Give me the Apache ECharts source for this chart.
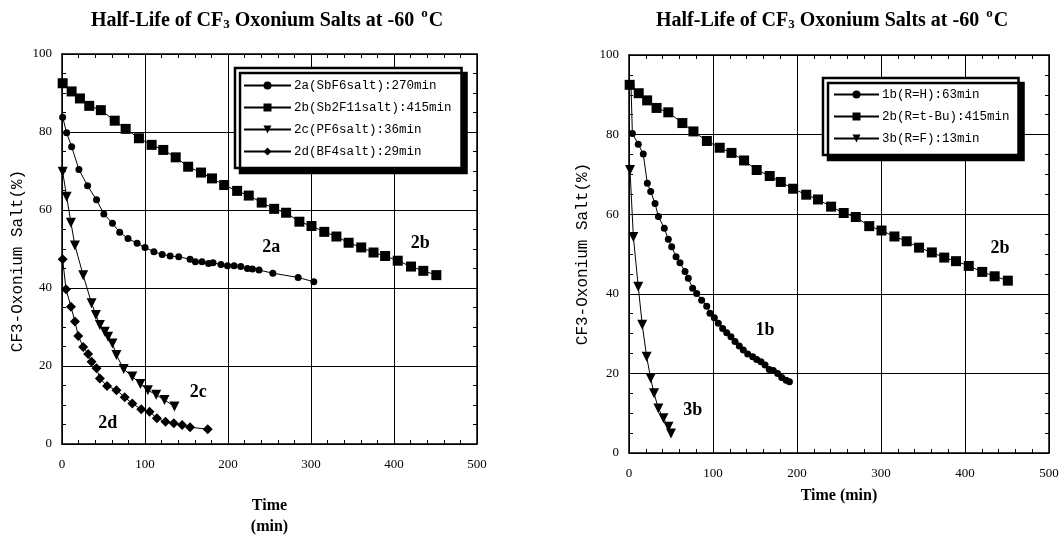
<!DOCTYPE html>
<html>
<head>
<meta charset="utf-8">
<script src="https://cdn.jsdelivr.net/npm/echarts@6/dist/echarts.min.js"></script>
<style>html,body{margin:0;padding:0;background:#fff;}#c{width:1061px;height:535px;}</style>
</head>
<body>
<div id="c"></div>
<script>
// ---- Data (time in min, remaining salt in %) ----
var s2a = [[0.8,83.8],[5.6,79.8],[11.6,76.2],[20.4,70.4],[30.8,66.2],[41.6,62.6],[50.4,59],[60.8,56.6],[69.5,54.3],[79.5,52.7],[90.5,51.5],[100,50.4],[110.7,49.3],[120.7,48.6],[130.3,48.2],[140.6,48],[154.3,47.4],[160.7,46.7],[168.7,46.7],[176.6,46.3],[182,46.5],[191.5,46],[199.4,45.7],[207.4,45.7],[215.4,45.5],[223.4,45],[229.4,44.9],[237.4,44.6],[254,43.8],[284.5,42.7],[303.4,41.6]];
var s2b = [[0.8,92.5],[11.6,90.4],[21.6,88.6],[32.8,86.7],[46.8,85.6],[63.5,82.9],[76.7,80.8],[92.7,78.4],[108,76.7],[122,75.4],[137,73.5],[152,71.1],[167.5,69.6],[180.7,68.1],[195.4,66.4],[211,64.9],[225,63.7],[240.6,61.9],[255.6,60.3],[270,59.3],[286,57],[300.6,55.9],[316,54.4],[330.6,53.2],[345.3,51.6],[360.5,50.4],[375.3,49.1],[389.3,48.2],[404.5,47],[420.5,45.5],[435.3,44.4],[451,43.3]];
var s2c = [[0.8,69.8],[5.6,63.4],[10.8,56.7],[15.6,50.9],[25.5,43.3],[35.6,36.1],[40.8,33.1],[45.6,30.5],[51.6,28.8],[55.5,27.5],[60.8,25.8],[65.6,22.8],[74.3,19.2],[84.7,17.3],[94.4,15.4],[103.5,13.8],[113.5,12.6],[123.5,11.3],[135.5,9.6]];
var s2d = [[0.8,47.4],[4.8,39.7],[10.8,35.2],[15.6,31.4],[19.6,27.7],[25.5,24.9],[31.5,23.1],[35.6,21.1],[41.6,19.4],[45.6,16.8],[54.3,14.9],[65.6,13.8],[75.5,12],[84.7,10.4],[95.5,8.9],[105.5,8.3],[114.3,6.6],[124.7,5.7],[134.7,5.3],[144.7,4.9],[154.3,4.3],[175.5,3.8]];
var s1b = [[2.4,92.2],[4,80.3],[11,77.6],[17,75.1],[21.8,67.8],[25.8,65.7],[31,62.7],[35,59.4],[42,56.5],[46.8,53.7],[50.8,51.8],[56,49.3],[60.7,47.8],[66.7,45.6],[70.6,43.9],[75.8,41.4],[80.6,40.1],[86.5,38.4],[92.5,36.9],[96.4,35.1],[101.6,34],[106.3,32.6],[111.5,31.3],[116.3,30.2],[121.4,29.2],[126.2,28],[131.3,26.9],[136.1,25.9],[141.3,24.9],[147.3,24.2],[152,23.5],[157.1,22.9],[162,22.1],[167,21],[171.8,20.7],[177,20],[181.8,19],[187,18.3],[191,17.9]];
var s3b = [[1.2,71.1],[5.2,54.3],[11,41.8],[15.8,32.2],[21,24.2],[25.8,18.8],[29.8,15],[35,11.2],[41,8.7],[47,6.6],[50,4.9]];
var namesLeft = ['2a(SbF6salt):270min','2b(Sb2F11salt):415min','2c(PF6salt):36min','2d(BF4salt):29min'];
var namesRight = ['1b(R=H):63min','2b(R=t-Bu):415min','3b(R=F):13min'];
var notesLeft = [[252,50.3,'2a'],[431.7,51.5,'2b'],[164,13.3,'2c'],[55,5.4,'2d']];
var notesRight = [[162,30.9,'1b'],[76,10.8,'3b'],[441.7,51.5,'2b']];
var xRange = {min:0, max:500, major:100, minor:20};
var yRange = {min:0, max:100, major:20, minor:5};

// ---- Styling ----
var SERIF = '"Liberation Serif","Times New Roman",serif';
var MONO = '"Liberation Mono","DejaVu Sans Mono",monospace';
var titleRich = {
  b:{fontFamily:SERIF,fontWeight:'bold',fontSize:20,color:'#000',lineHeight:24,verticalAlign:'bottom'},
  sub:{fontFamily:SERIF,fontWeight:'bold',fontSize:13,color:'#000',lineHeight:13,verticalAlign:'bottom'},
  sup:{fontFamily:SERIF,fontWeight:'bold',fontSize:13,color:'#000',lineHeight:13,verticalAlign:'top',padding:[0,1,0,2]}
};
var titleText = '{b|Half-Life of CF}{sub|3}{b| Oxonium Salts at -60 }{sup|o}{b|C}';

// kind: 'main' (labels + grid lines), 'minor' (inner ticks only), 'mirror' (opposite side, ticks only)
function xAx(grid, kind, name, gap){
  var main = kind==='main';
  var a = {gridIndex:grid, type:'value', position: kind==='mirror'?'top':'bottom',
    min:xRange.min, max:xRange.max, interval: main?xRange.major:xRange.minor,
    axisLine:{show:kind!=='minor',onZero:false,lineStyle:{color:'#000',width:1.5}},
    axisTick:{show:!main,inside:true,length:4,lineStyle:{color:'#000',width:1}},
    splitLine:{show:main,lineStyle:{color:'#000',width:1}},
    axisLabel:{show:main,color:'#000',fontFamily:SERIF,fontSize:13,margin:14}};
  if(name){ a.name=name; a.nameLocation='middle'; a.nameGap=gap;
    a.nameTextStyle={fontFamily:SERIF,fontWeight:'bold',fontSize:16,color:'#000',lineHeight:21,verticalAlign:'top'}; }
  return a;
}
function yAx(grid, kind, withName, gap, namePad){
  var main = kind==='main';
  var a = {gridIndex:grid, type:'value', position: kind==='mirror'?'right':'left',
    min:yRange.min, max:yRange.max, interval: main?yRange.major:yRange.minor,
    axisLine:{show:kind!=='minor',onZero:false,lineStyle:{color:'#000',width:1.5}},
    axisTick:{show:!main,inside:true,length:4,lineStyle:{color:'#000',width:1}},
    splitLine:{show:main,lineStyle:{color:'#000',width:1}},
    axisLabel:{show:main,color:'#000',fontFamily:SERIF,fontSize:13,margin:10}};
  if(withName){ a.name='CF3-Oxonium Salt(%)'; a.nameLocation='middle'; a.nameGap=gap; a.nameRotate=90;
    a.nameTextStyle={fontFamily:MONO,fontSize:16,color:'#000',padding:namePad||0}; }
  return a;
}
function line(name, data, sym, size, xi, yi, rot){
  return {name:name, type:'line', data:data, xAxisIndex:xi, yAxisIndex:yi, symbol:sym, symbolSize:size,
    symbolRotate:rot||0, showAllSymbol:true, animation:false,
    lineStyle:{color:'#000',width:1}, itemStyle:{color:'#000',opacity:1}, z:3};
}
function notes(data, xi, yi){
  return {type:'scatter', data:data, xAxisIndex:xi, yAxisIndex:yi, symbolSize:1, animation:false, silent:true,
    itemStyle:{color:'rgba(0,0,0,0)',opacity:1},
    label:{show:true,position:'inside',formatter:function(p){return p.value[2];},
      fontFamily:SERIF,fontWeight:'bold',fontSize:18,color:'#000',opacity:1}, z:5};
}
function legend(names, left, top, pad, iw){
  return {data:names, orient:'vertical', left:left, top:top, padding:pad, itemGap:9, itemWidth:iw, itemHeight:10,
    backgroundColor:'#fff', borderColor:'#000', borderWidth:2.5,
    shadowColor:'#000', shadowBlur:0, shadowOffsetX:5, shadowOffsetY:5,
    textStyle:{fontFamily:MONO,fontSize:12.5,color:'#000',padding:[0,0,0,-2]}, inactiveColor:'#000', selectedMode:false};
}

var option = {
  backgroundColor:'#fff',
  animation:false,
  title:[
    {text:titleText, left:86, top:2, textStyle:{rich:titleRich}},
    {text:titleText, left:651, top:2, textStyle:{rich:titleRich}}
  ],
  legend:[
    legend(namesLeft, 235, 68, [11,10,10,8], 47),
    legend(namesRight, 823, 78, [10,9,10,10], 45)
  ],
  grid:[
    {left:62, top:54, width:415, height:390, outerBoundsMode:'none', containLabel:false},
    {left:629, top:55, width:420, height:398, outerBoundsMode:'none', containLabel:false}
  ],
  xAxis:[ xAx(0,'main','Time\n(min)',51), xAx(0,'minor'), xAx(0,'mirror'),
          xAx(1,'main','Time (min)',31), xAx(1,'minor'), xAx(1,'mirror') ],
  yAxis:[ yAx(0,'main',true,36,[0,24,0,0]), yAx(0,'minor'), yAx(0,'mirror'),
          yAx(1,'main',true,38), yAx(1,'minor'), yAx(1,'mirror') ],
  series:[
    line(namesLeft[0], s2a, 'circle', 7, 0, 0),
    line(namesLeft[1], s2b, 'rect', 10, 0, 0),
    line(namesLeft[2], s2c, 'triangle', 10, 0, 0, 180),
    line(namesLeft[3], s2d, 'diamond', 10, 0, 0),
    line(namesRight[0], s1b, 'circle', 7, 3, 3),
    line(namesRight[1], s2b, 'rect', 10, 3, 3),
    line(namesRight[2], s3b, 'triangle', 10, 3, 3, 180),
    notes(notesLeft, 0, 0),
    notes(notesRight, 3, 3)
  ]
};
var chart = echarts.init(document.getElementById('c'), null, {renderer:'canvas'});
chart.setOption(option);
</script>
</body>
</html>
